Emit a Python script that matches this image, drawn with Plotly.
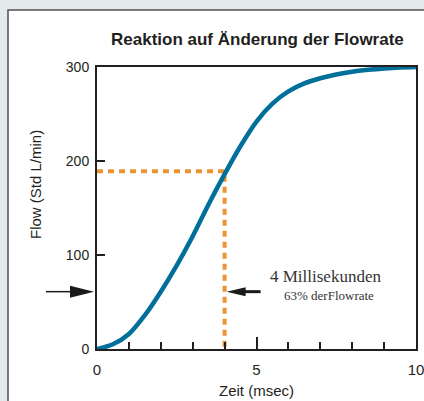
import plotly.graph_objects as go

# ---- data ----
time_ms = [0, 0.5, 1, 1.5, 2, 2.5, 3, 3.5, 4, 4.5, 5, 5.5, 6, 6.5, 7, 7.5, 8, 8.5, 9, 9.5, 10]
flow = [0, 5, 16, 36, 61, 89, 120, 154, 186, 216, 242, 261, 274, 282.5, 288, 292, 295, 297, 298.5, 299.5, 300]

x_tick_vals = [0, 5, 10]
x_tick_text = ["0", "5", "10"]
y_tick_vals = [0, 100, 200, 300]
y_tick_text = ["0", "100", "200", "300"]

T63 = 4          # msec
F63 = 189        # 63 % of 300
ARROW_FLOW = 61  # level of the two arrows

title_text = "Reaktion auf Änderung der Flowrate"
x_title = "Zeit (msec)"
y_title = "Flow (Std L/min)"
note_main = "4 Millisekunden"
note_sub = "63% derFlowrate"

# ---- layout geometry ----
W, H = 424, 401
ML, MR, MT, MB = 97, 8, 67, 52
PW, PH = W - ML - MR, H - MT - MB
X0, X1 = 0, 10
Y0, Y1 = 0, 300


def px_x(p):
    return (p - ML) / PW


def px_y(p):
    return (H - MB - p) / PH


def dx(p):
    return p / PW


def dy(p):
    return p / PH


def xp(v):
    return (v - X0) / (X1 - X0)


def yp(v):
    return (v - Y0) / (Y1 - Y0)


DARK = "#231f20"
BLUE = "#00709a"
ORANGE = "#ec9431"

fig = go.Figure()

fig.add_trace(go.Scatter(
    x=[X0, T63, T63], y=[F63, F63, Y0], mode="lines",
    line=dict(color=ORANGE, width=4, dash="6px,5px"),
    hoverinfo="skip", showlegend=False))

fig.add_trace(go.Scatter(
    x=time_ms, y=flow, mode="lines",
    line=dict(color=BLUE, width=4.5, shape="spline", smoothing=0.9),
    showlegend=False))

shapes = []
# outer white panel
shapes.append(dict(type="rect", xref="paper", yref="paper", layer="below",
                   x0=px_x(8), x1=px_x(440), y0=px_y(420), y1=px_y(10),
                   fillcolor="white", line=dict(color="#505050", width=1.5)))


def arrow(tip_x, tip_y, direction, head_len, head_half, shaft_len, shaft_w):
    base_x = tip_x - direction * dx(head_len)
    shapes.append(dict(type="line", xref="paper", yref="paper",
                       x0=base_x + direction * dx(2), x1=tip_x - direction * dx(head_len + shaft_len),
                       y0=tip_y, y1=tip_y, line=dict(color="#1a1a1a", width=shaft_w)))
    shapes.append(dict(type="path", xref="paper", yref="paper",
                       path=f"M {tip_x},{tip_y} L {base_x},{tip_y + dy(head_half)} "
                            f"L {base_x},{tip_y - dy(head_half)} Z",
                       fillcolor="#1a1a1a", line=dict(width=0)))


# arrow outside the axis, pointing right
arrow(xp(X0) - dx(3), yp(ARROW_FLOW), 1, 24, 6, 24, 1.5)
# arrow inside, pointing left at the 4 ms line
arrow(xp(T63) + dx(2), yp(ARROW_FLOW), -1, 19, 4.5, 15, 3)


def note(text, x, y, size, family="Liberation Sans", color=DARK, angle=0):
    return dict(text=text, xref="paper", yref="paper", x=px_x(x), y=px_y(y),
                xanchor="center", yanchor="middle", showarrow=False, textangle=angle,
                font=dict(family=family, size=size, color=color))


annotations = [
    note(f"<b>{title_text}</b>", 257, 39, 17),
    note(y_title, 35, 185, 15, angle=-90),
    note(x_title, 256, 390, 15),
    note(note_main, 325, 276, 17, family="Liberation Serif", color="#333333"),
    note(note_sub, 329, 295, 13, family="Liberation Serif", color="#333333"),
]

fig.update_layout(
    width=W, height=H,
    margin=dict(l=ML, r=MR, t=MT, b=MB, pad=0, autoexpand=False),
    paper_bgcolor="#e4eaec",
    plot_bgcolor="#e9f0c4",
    shapes=shapes,
    annotations=annotations,
    xaxis=dict(range=[X0, X1], tickmode="array", tickvals=x_tick_vals, ticktext=x_tick_text,
               ticks="inside", ticklen=12, tickwidth=2, tickcolor=DARK,
               minor=dict(dtick=1, tick0=0, ticks="inside", ticklen=7, tickwidth=2, tickcolor=DARK),
               showgrid=False, zeroline=False, showline=True, linecolor=DARK, linewidth=2,
               mirror=True, tickfont=dict(family="Liberation Sans", size=15, color=DARK),
               ticklabelstandoff=6, automargin=False, ticklabeloverflow="allow"),
    yaxis=dict(range=[Y0, Y1], tickmode="array", tickvals=y_tick_vals, ticktext=y_tick_text,
               ticks="inside", ticklen=8, tickwidth=2, tickcolor=DARK,
               showgrid=False, zeroline=False, showline=True, linecolor=DARK, linewidth=2,
               mirror=True, tickfont=dict(family="Liberation Sans", size=14, color=DARK),
               ticklabelstandoff=3, automargin=False, ticklabeloverflow="allow"),
)

fig.write_html(
    "out.html",
    config={"displayModeBar": False},
    post_script="document.body.style.margin='0';document.body.style.overflow='hidden';",
)
